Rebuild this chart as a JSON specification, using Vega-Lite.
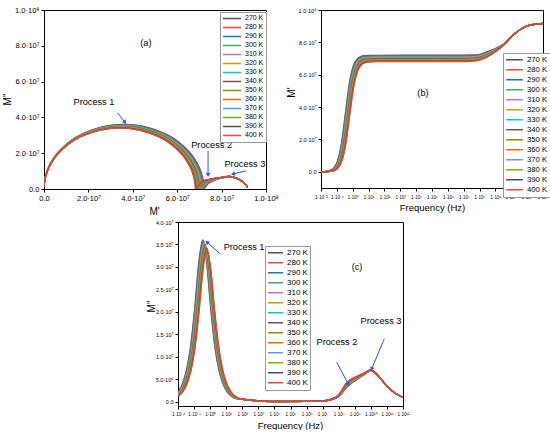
{
"$schema":"https://vega.github.io/schema/vega-lite/v6.json",
"padding":{"left":1,"top":5,"right":0,"bottom":0},
"config":{"font":"Liberation Sans","view":{"stroke":"#000","strokeWidth":1},
"axis":{"grid":false,"domainColor":"#000","tickColor":"#000","labelColor":"#000","titleColor":"#000","titleFontWeight":"normal","tickSize":3,"labelPadding":2,"labelFlush":false,"labelOverlap":false},
"legend":{"symbolType":"stroke","symbolStrokeWidth":1.5,"rowPadding":0,"padding":2,"strokeColor":"#999","fillColor":"#fff","labelColor":"#000","labelOffset":3}},
"datasets":{"d":[
{"T":"270 K","lf":-2.21,"re":0.002e7,"im":0.128e7},{"T":"270 K","lf":-1.96,"re":0.007e7,"im":0.227e7},{"T":"270 K","lf":-1.71,"re":0.023e7,"im":0.404e7},{"T":"270 K","lf":-1.46,"re":0.071e7,"im":0.713e7},{"T":"270 K","lf":-1.21,"re":0.221e7,"im":1.241e7},{"T":"270 K","lf":-0.96,"re":0.655e7,"im":2.070e7},{"T":"270 K","lf":-0.71,"re":1.730e7,"im":3.076e7},{"T":"270 K","lf":-0.46,"re":3.600e7,"im":3.600e7},{"T":"270 K","lf":-0.21,"re":5.470e7,"im":3.076e7},{"T":"270 K","lf":0.04,"re":6.545e7,"im":2.070e7},{"T":"270 K","lf":0.29,"re":6.979e7,"im":1.241e7},{"T":"270 K","lf":0.54,"re":7.129e7,"im":0.713e7},{"T":"270 K","lf":0.79,"re":7.177e7,"im":0.404e7},{"T":"270 K","lf":1.04,"re":7.193e7,"im":0.227e7},{"T":"270 K","lf":1.29,"re":7.198e7,"im":0.128e7},{"T":"270 K","lf":1.54,"re":7.199e7,"im":0.072e7},
{"T":"270 K","lf":4,"re":7.201e7,"im":0.001e7},{"T":"270 K","lf":6,"re":7.203e7,"im":0.004e7},{"T":"270 K","lf":7,"re":7.205e7,"im":0.012e7},{"T":"270 K","lf":7.5,"re":7.215e7,"im":0.035e7},{"T":"270 K","lf":8,"re":7.260e7,"im":0.110e7},{"T":"270 K","lf":8.5,"re":7.420e7,"im":0.320e7},{"T":"270 K","lf":9,"re":7.620e7,"im":0.460e7},{"T":"270 K","lf":9.5,"re":7.880e7,"im":0.580e7},{"T":"270 K","lf":9.75,"re":8.100e7,"im":0.645e7},{"T":"270 K","lf":10,"re":8.350e7,"im":0.690e7},{"T":"270 K","lf":10.25,"re":8.570e7,"im":0.640e7},{"T":"270 K","lf":10.5,"re":8.75e7,"im":0.555e7},{"T":"270 K","lf":11,"re":9.02e7,"im":0.34e7},{"T":"270 K","lf":11.5,"re":9.12e7,"im":0.19e7},{"T":"270 K","lf":12,"re":9.17e7,"im":0.09e7},
{"T":"280 K","lf":-2.19,"re":0.002e7,"im":0.127e7},{"T":"280 K","lf":-1.94,"re":0.007e7,"im":0.227e7},{"T":"280 K","lf":-1.69,"re":0.023e7,"im":0.402e7},{"T":"280 K","lf":-1.44,"re":0.071e7,"im":0.710e7},{"T":"280 K","lf":-1.19,"re":0.220e7,"im":1.236e7},{"T":"280 K","lf":-0.94,"re":0.652e7,"im":2.061e7},{"T":"280 K","lf":-0.69,"re":1.723e7,"im":3.063e7},{"T":"280 K","lf":-0.44,"re":3.585e7,"im":3.585e7},{"T":"280 K","lf":-0.19,"re":5.447e7,"im":3.063e7},{"T":"280 K","lf":0.06,"re":6.518e7,"im":2.061e7},{"T":"280 K","lf":0.31,"re":6.950e7,"im":1.236e7},{"T":"280 K","lf":0.56,"re":7.099e7,"im":0.710e7},{"T":"280 K","lf":0.81,"re":7.147e7,"im":0.402e7},{"T":"280 K","lf":1.06,"re":7.163e7,"im":0.227e7},{"T":"280 K","lf":1.31,"re":7.168e7,"im":0.127e7},{"T":"280 K","lf":1.56,"re":7.169e7,"im":0.072e7},
{"T":"280 K","lf":4,"re":7.171e7,"im":0.001e7},{"T":"280 K","lf":6,"re":7.173e7,"im":0.004e7},{"T":"280 K","lf":7,"re":7.175e7,"im":0.012e7},{"T":"280 K","lf":7.5,"re":7.186e7,"im":0.036e7},{"T":"280 K","lf":8,"re":7.233e7,"im":0.113e7},{"T":"280 K","lf":8.5,"re":7.395e7,"im":0.328e7},{"T":"280 K","lf":9,"re":7.605e7,"im":0.466e7},{"T":"280 K","lf":9.5,"re":7.875e7,"im":0.583e7},{"T":"280 K","lf":9.75,"re":8.097e7,"im":0.647e7},{"T":"280 K","lf":10,"re":8.348e7,"im":0.692e7},{"T":"280 K","lf":10.25,"re":8.569e7,"im":0.641e7},{"T":"280 K","lf":10.5,"re":8.75e7,"im":0.555e7},{"T":"280 K","lf":11,"re":9.02e7,"im":0.34e7},{"T":"280 K","lf":11.5,"re":9.12e7,"im":0.19e7},{"T":"280 K","lf":12,"re":9.17e7,"im":0.09e7},
{"T":"290 K","lf":-2.17,"re":0.002e7,"im":0.127e7},{"T":"290 K","lf":-1.92,"re":0.007e7,"im":0.226e7},{"T":"290 K","lf":-1.67,"re":0.023e7,"im":0.400e7},{"T":"290 K","lf":-1.42,"re":0.071e7,"im":0.707e7},{"T":"290 K","lf":-1.17,"re":0.219e7,"im":1.231e7},{"T":"290 K","lf":-0.92,"re":0.649e7,"im":2.053e7},{"T":"290 K","lf":-0.67,"re":1.715e7,"im":3.051e7},{"T":"290 K","lf":-0.42,"re":3.570e7,"im":3.570e7},{"T":"290 K","lf":-0.17,"re":5.425e7,"im":3.051e7},{"T":"290 K","lf":0.08,"re":6.491e7,"im":2.053e7},{"T":"290 K","lf":0.33,"re":6.921e7,"im":1.231e7},{"T":"290 K","lf":0.58,"re":7.069e7,"im":0.707e7},{"T":"290 K","lf":0.83,"re":7.117e7,"im":0.400e7},{"T":"290 K","lf":1.08,"re":7.133e7,"im":0.226e7},{"T":"290 K","lf":1.33,"re":7.138e7,"im":0.127e7},{"T":"290 K","lf":1.58,"re":7.139e7,"im":0.071e7},
{"T":"290 K","lf":4,"re":7.141e7,"im":0.001e7},{"T":"290 K","lf":6,"re":7.143e7,"im":0.004e7},{"T":"290 K","lf":7,"re":7.145e7,"im":0.012e7},{"T":"290 K","lf":7.5,"re":7.157e7,"im":0.037e7},{"T":"290 K","lf":8,"re":7.206e7,"im":0.116e7},{"T":"290 K","lf":8.5,"re":7.371e7,"im":0.335e7},{"T":"290 K","lf":9,"re":7.589e7,"im":0.472e7},{"T":"290 K","lf":9.5,"re":7.869e7,"im":0.586e7},{"T":"290 K","lf":9.75,"re":8.094e7,"im":0.648e7},{"T":"290 K","lf":10,"re":8.347e7,"im":0.693e7},{"T":"290 K","lf":10.25,"re":8.568e7,"im":0.642e7},{"T":"290 K","lf":10.5,"re":8.75e7,"im":0.556e7},{"T":"290 K","lf":11,"re":9.02e7,"im":0.34e7},{"T":"290 K","lf":11.5,"re":9.12e7,"im":0.19e7},{"T":"290 K","lf":12,"re":9.17e7,"im":0.09e7},
{"T":"300 K","lf":-2.15,"re":0.002e7,"im":0.126e7},{"T":"300 K","lf":-1.90,"re":0.007e7,"im":0.225e7},{"T":"300 K","lf":-1.65,"re":0.022e7,"im":0.399e7},{"T":"300 K","lf":-1.40,"re":0.070e7,"im":0.704e7},{"T":"300 K","lf":-1.15,"re":0.218e7,"im":1.226e7},{"T":"300 K","lf":-0.90,"re":0.646e7,"im":2.044e7},{"T":"300 K","lf":-0.65,"re":1.708e7,"im":3.038e7},{"T":"300 K","lf":-0.40,"re":3.555e7,"im":3.555e7},{"T":"300 K","lf":-0.15,"re":5.402e7,"im":3.038e7},{"T":"300 K","lf":0.10,"re":6.464e7,"im":2.044e7},{"T":"300 K","lf":0.35,"re":6.892e7,"im":1.226e7},{"T":"300 K","lf":0.60,"re":7.040e7,"im":0.704e7},{"T":"300 K","lf":0.85,"re":7.088e7,"im":0.399e7},{"T":"300 K","lf":1.10,"re":7.103e7,"im":0.225e7},{"T":"300 K","lf":1.35,"re":7.108e7,"im":0.126e7},{"T":"300 K","lf":1.60,"re":7.109e7,"im":0.071e7},
{"T":"300 K","lf":4,"re":7.111e7,"im":0.001e7},{"T":"300 K","lf":6,"re":7.113e7,"im":0.004e7},{"T":"300 K","lf":7,"re":7.115e7,"im":0.012e7},{"T":"300 K","lf":7.5,"re":7.127e7,"im":0.037e7},{"T":"300 K","lf":8,"re":7.179e7,"im":0.119e7},{"T":"300 K","lf":8.5,"re":7.346e7,"im":0.343e7},{"T":"300 K","lf":9,"re":7.574e7,"im":0.478e7},{"T":"300 K","lf":9.5,"re":7.864e7,"im":0.589e7},{"T":"300 K","lf":9.75,"re":8.091e7,"im":0.650e7},{"T":"300 K","lf":10,"re":8.345e7,"im":0.695e7},{"T":"300 K","lf":10.25,"re":8.568e7,"im":0.642e7},{"T":"300 K","lf":10.5,"re":8.75e7,"im":0.556e7},{"T":"300 K","lf":11,"re":9.02e7,"im":0.34e7},{"T":"300 K","lf":11.5,"re":9.12e7,"im":0.19e7},{"T":"300 K","lf":12,"re":9.17e7,"im":0.09e7},
{"T":"310 K","lf":-2.13,"re":0.002e7,"im":0.126e7},{"T":"310 K","lf":-1.88,"re":0.007e7,"im":0.224e7},{"T":"310 K","lf":-1.63,"re":0.022e7,"im":0.397e7},{"T":"310 K","lf":-1.38,"re":0.070e7,"im":0.701e7},{"T":"310 K","lf":-1.13,"re":0.217e7,"im":1.220e7},{"T":"310 K","lf":-0.88,"re":0.644e7,"im":2.035e7},{"T":"310 K","lf":-0.63,"re":1.701e7,"im":3.025e7},{"T":"310 K","lf":-0.38,"re":3.540e7,"im":3.540e7},{"T":"310 K","lf":-0.13,"re":5.379e7,"im":3.025e7},{"T":"310 K","lf":0.12,"re":6.436e7,"im":2.035e7},{"T":"310 K","lf":0.37,"re":6.863e7,"im":1.220e7},{"T":"310 K","lf":0.62,"re":7.010e7,"im":0.701e7},{"T":"310 K","lf":0.87,"re":7.058e7,"im":0.397e7},{"T":"310 K","lf":1.12,"re":7.073e7,"im":0.224e7},{"T":"310 K","lf":1.37,"re":7.078e7,"im":0.126e7},{"T":"310 K","lf":1.62,"re":7.079e7,"im":0.071e7},
{"T":"310 K","lf":4,"re":7.081e7,"im":0.001e7},{"T":"310 K","lf":6,"re":7.083e7,"im":0.004e7},{"T":"310 K","lf":7,"re":7.085e7,"im":0.013e7},{"T":"310 K","lf":7.5,"re":7.098e7,"im":0.038e7},{"T":"310 K","lf":8,"re":7.152e7,"im":0.122e7},{"T":"310 K","lf":8.5,"re":7.322e7,"im":0.351e7},{"T":"310 K","lf":9,"re":7.558e7,"im":0.485e7},{"T":"310 K","lf":9.5,"re":7.858e7,"im":0.592e7},{"T":"310 K","lf":9.75,"re":8.088e7,"im":0.651e7},{"T":"310 K","lf":10,"re":8.344e7,"im":0.696e7},{"T":"310 K","lf":10.25,"re":8.567e7,"im":0.643e7},{"T":"310 K","lf":10.5,"re":8.75e7,"im":0.557e7},{"T":"310 K","lf":11,"re":9.02e7,"im":0.34e7},{"T":"310 K","lf":11.5,"re":9.12e7,"im":0.19e7},{"T":"310 K","lf":12,"re":9.17e7,"im":0.09e7},
{"T":"320 K","lf":-2.11,"re":0.002e7,"im":0.125e7},{"T":"320 K","lf":-1.86,"re":0.007e7,"im":0.223e7},{"T":"320 K","lf":-1.61,"re":0.022e7,"im":0.395e7},{"T":"320 K","lf":-1.36,"re":0.070e7,"im":0.698e7},{"T":"320 K","lf":-1.11,"re":0.216e7,"im":1.215e7},{"T":"320 K","lf":-0.86,"re":0.641e7,"im":2.027e7},{"T":"320 K","lf":-0.61,"re":1.694e7,"im":3.012e7},{"T":"320 K","lf":-0.36,"re":3.525e7,"im":3.525e7},{"T":"320 K","lf":-0.11,"re":5.356e7,"im":3.012e7},{"T":"320 K","lf":0.14,"re":6.409e7,"im":2.027e7},{"T":"320 K","lf":0.39,"re":6.834e7,"im":1.215e7},{"T":"320 K","lf":0.64,"re":6.980e7,"im":0.698e7},{"T":"320 K","lf":0.89,"re":7.028e7,"im":0.395e7},{"T":"320 K","lf":1.14,"re":7.043e7,"im":0.223e7},{"T":"320 K","lf":1.39,"re":7.048e7,"im":0.125e7},{"T":"320 K","lf":1.64,"re":7.049e7,"im":0.070e7},
{"T":"320 K","lf":4,"re":7.051e7,"im":0.001e7},{"T":"320 K","lf":6,"re":7.053e7,"im":0.004e7},{"T":"320 K","lf":7,"re":7.055e7,"im":0.013e7},{"T":"320 K","lf":7.5,"re":7.069e7,"im":0.039e7},{"T":"320 K","lf":8,"re":7.125e7,"im":0.125e7},{"T":"320 K","lf":8.5,"re":7.297e7,"im":0.358e7},{"T":"320 K","lf":9,"re":7.543e7,"im":0.491e7},{"T":"320 K","lf":9.5,"re":7.853e7,"im":0.595e7},{"T":"320 K","lf":9.75,"re":8.085e7,"im":0.653e7},{"T":"320 K","lf":10,"re":8.342e7,"im":0.698e7},{"T":"320 K","lf":10.25,"re":8.566e7,"im":0.644e7},{"T":"320 K","lf":10.5,"re":8.75e7,"im":0.557e7},{"T":"320 K","lf":11,"re":9.02e7,"im":0.34e7},{"T":"320 K","lf":11.5,"re":9.12e7,"im":0.19e7},{"T":"320 K","lf":12,"re":9.17e7,"im":0.09e7},
{"T":"330 K","lf":-2.09,"re":0.002e7,"im":0.125e7},{"T":"330 K","lf":-1.84,"re":0.007e7,"im":0.222e7},{"T":"330 K","lf":-1.59,"re":0.022e7,"im":0.394e7},{"T":"330 K","lf":-1.34,"re":0.070e7,"im":0.695e7},{"T":"330 K","lf":-1.09,"re":0.215e7,"im":1.210e7},{"T":"330 K","lf":-0.84,"re":0.638e7,"im":2.018e7},{"T":"330 K","lf":-0.59,"re":1.687e7,"im":2.999e7},{"T":"330 K","lf":-0.34,"re":3.510e7,"im":3.510e7},{"T":"330 K","lf":-0.09,"re":5.333e7,"im":2.999e7},{"T":"330 K","lf":0.16,"re":6.382e7,"im":2.018e7},{"T":"330 K","lf":0.41,"re":6.805e7,"im":1.210e7},{"T":"330 K","lf":0.66,"re":6.951e7,"im":0.695e7},{"T":"330 K","lf":0.91,"re":6.998e7,"im":0.394e7},{"T":"330 K","lf":1.16,"re":7.013e7,"im":0.222e7},{"T":"330 K","lf":1.41,"re":7.018e7,"im":0.125e7},{"T":"330 K","lf":1.66,"re":7.019e7,"im":0.070e7},
{"T":"330 K","lf":4,"re":7.021e7,"im":0.001e7},{"T":"330 K","lf":6,"re":7.023e7,"im":0.004e7},{"T":"330 K","lf":7,"re":7.025e7,"im":0.013e7},{"T":"330 K","lf":7.5,"re":7.040e7,"im":0.040e7},{"T":"330 K","lf":8,"re":7.098e7,"im":0.128e7},{"T":"330 K","lf":8.5,"re":7.272e7,"im":0.366e7},{"T":"330 K","lf":9,"re":7.528e7,"im":0.497e7},{"T":"330 K","lf":9.5,"re":7.848e7,"im":0.598e7},{"T":"330 K","lf":9.75,"re":8.082e7,"im":0.654e7},{"T":"330 K","lf":10,"re":8.341e7,"im":0.699e7},{"T":"330 K","lf":10.25,"re":8.565e7,"im":0.645e7},{"T":"330 K","lf":10.5,"re":8.75e7,"im":0.557e7},{"T":"330 K","lf":11,"re":9.02e7,"im":0.34e7},{"T":"330 K","lf":11.5,"re":9.12e7,"im":0.19e7},{"T":"330 K","lf":12,"re":9.17e7,"im":0.09e7},
{"T":"340 K","lf":-2.07,"re":0.002e7,"im":0.124e7},{"T":"340 K","lf":-1.82,"re":0.007e7,"im":0.221e7},{"T":"340 K","lf":-1.57,"re":0.022e7,"im":0.392e7},{"T":"340 K","lf":-1.32,"re":0.069e7,"im":0.692e7},{"T":"340 K","lf":-1.07,"re":0.214e7,"im":1.205e7},{"T":"340 K","lf":-0.82,"re":0.635e7,"im":2.009e7},{"T":"340 K","lf":-0.57,"re":1.679e7,"im":2.986e7},{"T":"340 K","lf":-0.32,"re":3.495e7,"im":3.495e7},{"T":"340 K","lf":-0.07,"re":5.311e7,"im":2.986e7},{"T":"340 K","lf":0.18,"re":6.355e7,"im":2.009e7},{"T":"340 K","lf":0.43,"re":6.776e7,"im":1.205e7},{"T":"340 K","lf":0.68,"re":6.921e7,"im":0.692e7},{"T":"340 K","lf":0.93,"re":6.968e7,"im":0.392e7},{"T":"340 K","lf":1.18,"re":6.983e7,"im":0.221e7},{"T":"340 K","lf":1.43,"re":6.988e7,"im":0.124e7},{"T":"340 K","lf":1.68,"re":6.989e7,"im":0.070e7},
{"T":"340 K","lf":4,"re":6.991e7,"im":0.001e7},{"T":"340 K","lf":6,"re":6.993e7,"im":0.004e7},{"T":"340 K","lf":7,"re":6.995e7,"im":0.013e7},{"T":"340 K","lf":7.5,"re":7.010e7,"im":0.040e7},{"T":"340 K","lf":8,"re":7.072e7,"im":0.132e7},{"T":"340 K","lf":8.5,"re":7.248e7,"im":0.374e7},{"T":"340 K","lf":9,"re":7.512e7,"im":0.503e7},{"T":"340 K","lf":9.5,"re":7.842e7,"im":0.602e7},{"T":"340 K","lf":9.75,"re":8.078e7,"im":0.656e7},{"T":"340 K","lf":10,"re":8.339e7,"im":0.701e7},{"T":"340 K","lf":10.25,"re":8.565e7,"im":0.645e7},{"T":"340 K","lf":10.5,"re":8.75e7,"im":0.558e7},{"T":"340 K","lf":11,"re":9.02e7,"im":0.34e7},{"T":"340 K","lf":11.5,"re":9.12e7,"im":0.19e7},{"T":"340 K","lf":12,"re":9.17e7,"im":0.09e7},
{"T":"350 K","lf":-2.05,"re":0.002e7,"im":0.124e7},{"T":"350 K","lf":-1.80,"re":0.007e7,"im":0.220e7},{"T":"350 K","lf":-1.55,"re":0.022e7,"im":0.390e7},{"T":"350 K","lf":-1.30,"re":0.069e7,"im":0.689e7},{"T":"350 K","lf":-1.05,"re":0.213e7,"im":1.200e7},{"T":"350 K","lf":-0.80,"re":0.633e7,"im":2.001e7},{"T":"350 K","lf":-0.55,"re":1.672e7,"im":2.974e7},{"T":"350 K","lf":-0.30,"re":3.480e7,"im":3.480e7},{"T":"350 K","lf":-0.05,"re":5.288e7,"im":2.974e7},{"T":"350 K","lf":0.20,"re":6.327e7,"im":2.001e7},{"T":"350 K","lf":0.45,"re":6.747e7,"im":1.200e7},{"T":"350 K","lf":0.70,"re":6.891e7,"im":0.689e7},{"T":"350 K","lf":0.95,"re":6.938e7,"im":0.390e7},{"T":"350 K","lf":1.20,"re":6.953e7,"im":0.220e7},{"T":"350 K","lf":1.45,"re":6.958e7,"im":0.124e7},{"T":"350 K","lf":1.70,"re":6.959e7,"im":0.070e7},
{"T":"350 K","lf":4,"re":6.961e7,"im":0.001e7},{"T":"350 K","lf":6,"re":6.963e7,"im":0.004e7},{"T":"350 K","lf":7,"re":6.965e7,"im":0.013e7},{"T":"350 K","lf":7.5,"re":6.981e7,"im":0.041e7},{"T":"350 K","lf":8,"re":7.045e7,"im":0.135e7},{"T":"350 K","lf":8.5,"re":7.223e7,"im":0.382e7},{"T":"350 K","lf":9,"re":7.497e7,"im":0.509e7},{"T":"350 K","lf":9.5,"re":7.837e7,"im":0.605e7},{"T":"350 K","lf":9.75,"re":8.075e7,"im":0.657e7},{"T":"350 K","lf":10,"re":8.338e7,"im":0.702e7},{"T":"350 K","lf":10.25,"re":8.564e7,"im":0.646e7},{"T":"350 K","lf":10.5,"re":8.75e7,"im":0.558e7},{"T":"350 K","lf":11,"re":9.02e7,"im":0.34e7},{"T":"350 K","lf":11.5,"re":9.12e7,"im":0.19e7},{"T":"350 K","lf":12,"re":9.17e7,"im":0.09e7},
{"T":"360 K","lf":-2.03,"re":0.002e7,"im":0.123e7},{"T":"360 K","lf":-1.78,"re":0.007e7,"im":0.219e7},{"T":"360 K","lf":-1.53,"re":0.022e7,"im":0.388e7},{"T":"360 K","lf":-1.28,"re":0.069e7,"im":0.686e7},{"T":"360 K","lf":-1.03,"re":0.212e7,"im":1.195e7},{"T":"360 K","lf":-0.78,"re":0.630e7,"im":1.992e7},{"T":"360 K","lf":-0.53,"re":1.665e7,"im":2.961e7},{"T":"360 K","lf":-0.28,"re":3.465e7,"im":3.465e7},{"T":"360 K","lf":-0.03,"re":5.265e7,"im":2.961e7},{"T":"360 K","lf":0.22,"re":6.300e7,"im":1.992e7},{"T":"360 K","lf":0.47,"re":6.718e7,"im":1.195e7},{"T":"360 K","lf":0.72,"re":6.861e7,"im":0.686e7},{"T":"360 K","lf":0.97,"re":6.908e7,"im":0.388e7},{"T":"360 K","lf":1.22,"re":6.923e7,"im":0.219e7},{"T":"360 K","lf":1.47,"re":6.928e7,"im":0.123e7},{"T":"360 K","lf":1.72,"re":6.929e7,"im":0.069e7},
{"T":"360 K","lf":4,"re":6.931e7,"im":0.001e7},{"T":"360 K","lf":6,"re":6.933e7,"im":0.004e7},{"T":"360 K","lf":7,"re":6.935e7,"im":0.013e7},{"T":"360 K","lf":7.5,"re":6.952e7,"im":0.042e7},{"T":"360 K","lf":8,"re":7.018e7,"im":0.138e7},{"T":"360 K","lf":8.5,"re":7.198e7,"im":0.389e7},{"T":"360 K","lf":9,"re":7.482e7,"im":0.515e7},{"T":"360 K","lf":9.5,"re":7.832e7,"im":0.608e7},{"T":"360 K","lf":9.75,"re":8.072e7,"im":0.659e7},{"T":"360 K","lf":10,"re":8.336e7,"im":0.704e7},{"T":"360 K","lf":10.25,"re":8.563e7,"im":0.647e7},{"T":"360 K","lf":10.5,"re":8.75e7,"im":0.558e7},{"T":"360 K","lf":11,"re":9.02e7,"im":0.34e7},{"T":"360 K","lf":11.5,"re":9.12e7,"im":0.19e7},{"T":"360 K","lf":12,"re":9.17e7,"im":0.09e7},
{"T":"370 K","lf":-2.01,"re":0.002e7,"im":0.123e7},{"T":"370 K","lf":-1.76,"re":0.007e7,"im":0.218e7},{"T":"370 K","lf":-1.51,"re":0.022e7,"im":0.387e7},{"T":"370 K","lf":-1.26,"re":0.068e7,"im":0.683e7},{"T":"370 K","lf":-1.01,"re":0.211e7,"im":1.189e7},{"T":"370 K","lf":-0.76,"re":0.627e7,"im":1.984e7},{"T":"370 K","lf":-0.51,"re":1.658e7,"im":2.948e7},{"T":"370 K","lf":-0.26,"re":3.450e7,"im":3.450e7},{"T":"370 K","lf":-0.01,"re":5.242e7,"im":2.948e7},{"T":"370 K","lf":0.24,"re":6.273e7,"im":1.984e7},{"T":"370 K","lf":0.49,"re":6.688e7,"im":1.189e7},{"T":"370 K","lf":0.74,"re":6.832e7,"im":0.683e7},{"T":"370 K","lf":0.99,"re":6.878e7,"im":0.387e7},{"T":"370 K","lf":1.24,"re":6.893e7,"im":0.218e7},{"T":"370 K","lf":1.49,"re":6.898e7,"im":0.123e7},{"T":"370 K","lf":1.74,"re":6.899e7,"im":0.069e7},
{"T":"370 K","lf":4,"re":6.901e7,"im":0.001e7},{"T":"370 K","lf":6,"re":6.903e7,"im":0.004e7},{"T":"370 K","lf":7,"re":6.905e7,"im":0.014e7},{"T":"370 K","lf":7.5,"re":6.923e7,"im":0.043e7},{"T":"370 K","lf":8,"re":6.991e7,"im":0.141e7},{"T":"370 K","lf":8.5,"re":7.174e7,"im":0.397e7},{"T":"370 K","lf":9,"re":7.466e7,"im":0.522e7},{"T":"370 K","lf":9.5,"re":7.826e7,"im":0.611e7},{"T":"370 K","lf":9.75,"re":8.069e7,"im":0.660e7},{"T":"370 K","lf":10,"re":8.335e7,"im":0.705e7},{"T":"370 K","lf":10.25,"re":8.562e7,"im":0.648e7},{"T":"370 K","lf":10.5,"re":8.75e7,"im":0.559e7},{"T":"370 K","lf":11,"re":9.02e7,"im":0.34e7},{"T":"370 K","lf":11.5,"re":9.12e7,"im":0.19e7},{"T":"370 K","lf":12,"re":9.17e7,"im":0.09e7},
{"T":"380 K","lf":-1.99,"re":0.002e7,"im":0.122e7},{"T":"380 K","lf":-1.74,"re":0.007e7,"im":0.217e7},{"T":"380 K","lf":-1.49,"re":0.022e7,"im":0.385e7},{"T":"380 K","lf":-1.24,"re":0.068e7,"im":0.680e7},{"T":"380 K","lf":-0.99,"re":0.211e7,"im":1.184e7},{"T":"380 K","lf":-0.74,"re":0.625e7,"im":1.975e7},{"T":"380 K","lf":-0.49,"re":1.651e7,"im":2.935e7},{"T":"380 K","lf":-0.24,"re":3.435e7,"im":3.435e7},{"T":"380 K","lf":0.01,"re":5.219e7,"im":2.935e7},{"T":"380 K","lf":0.26,"re":6.245e7,"im":1.975e7},{"T":"380 K","lf":0.51,"re":6.659e7,"im":1.184e7},{"T":"380 K","lf":0.76,"re":6.802e7,"im":0.680e7},{"T":"380 K","lf":1.01,"re":6.848e7,"im":0.385e7},{"T":"380 K","lf":1.26,"re":6.863e7,"im":0.217e7},{"T":"380 K","lf":1.51,"re":6.868e7,"im":0.122e7},{"T":"380 K","lf":1.76,"re":6.869e7,"im":0.069e7},
{"T":"380 K","lf":4,"re":6.871e7,"im":0.001e7},{"T":"380 K","lf":6,"re":6.873e7,"im":0.004e7},{"T":"380 K","lf":7,"re":6.875e7,"im":0.014e7},{"T":"380 K","lf":7.5,"re":6.893e7,"im":0.043e7},{"T":"380 K","lf":8,"re":6.964e7,"im":0.144e7},{"T":"380 K","lf":8.5,"re":7.149e7,"im":0.405e7},{"T":"380 K","lf":9,"re":7.451e7,"im":0.528e7},{"T":"380 K","lf":9.5,"re":7.821e7,"im":0.614e7},{"T":"380 K","lf":9.75,"re":8.066e7,"im":0.662e7},{"T":"380 K","lf":10,"re":8.333e7,"im":0.707e7},{"T":"380 K","lf":10.25,"re":8.562e7,"im":0.648e7},{"T":"380 K","lf":10.5,"re":8.75e7,"im":0.559e7},{"T":"380 K","lf":11,"re":9.02e7,"im":0.34e7},{"T":"380 K","lf":11.5,"re":9.12e7,"im":0.19e7},{"T":"380 K","lf":12,"re":9.17e7,"im":0.09e7},
{"T":"390 K","lf":-1.97,"re":0.002e7,"im":0.122e7},{"T":"390 K","lf":-1.72,"re":0.007e7,"im":0.216e7},{"T":"390 K","lf":-1.47,"re":0.022e7,"im":0.383e7},{"T":"390 K","lf":-1.22,"re":0.068e7,"im":0.677e7},{"T":"390 K","lf":-0.97,"re":0.210e7,"im":1.179e7},{"T":"390 K","lf":-0.72,"re":0.622e7,"im":1.966e7},{"T":"390 K","lf":-0.47,"re":1.643e7,"im":2.922e7},{"T":"390 K","lf":-0.22,"re":3.420e7,"im":3.420e7},{"T":"390 K","lf":0.03,"re":5.197e7,"im":2.922e7},{"T":"390 K","lf":0.28,"re":6.218e7,"im":1.966e7},{"T":"390 K","lf":0.53,"re":6.630e7,"im":1.179e7},{"T":"390 K","lf":0.78,"re":6.772e7,"im":0.677e7},{"T":"390 K","lf":1.03,"re":6.818e7,"im":0.383e7},{"T":"390 K","lf":1.28,"re":6.833e7,"im":0.216e7},{"T":"390 K","lf":1.53,"re":6.838e7,"im":0.122e7},{"T":"390 K","lf":1.78,"re":6.839e7,"im":0.068e7},
{"T":"390 K","lf":4,"re":6.841e7,"im":0.001e7},{"T":"390 K","lf":6,"re":6.843e7,"im":0.004e7},{"T":"390 K","lf":7,"re":6.845e7,"im":0.014e7},{"T":"390 K","lf":7.5,"re":6.864e7,"im":0.044e7},{"T":"390 K","lf":8,"re":6.937e7,"im":0.147e7},{"T":"390 K","lf":8.5,"re":7.125e7,"im":0.412e7},{"T":"390 K","lf":9,"re":7.435e7,"im":0.534e7},{"T":"390 K","lf":9.5,"re":7.815e7,"im":0.617e7},{"T":"390 K","lf":9.75,"re":8.063e7,"im":0.663e7},{"T":"390 K","lf":10,"re":8.332e7,"im":0.708e7},{"T":"390 K","lf":10.25,"re":8.561e7,"im":0.649e7},{"T":"390 K","lf":10.5,"re":8.75e7,"im":0.560e7},{"T":"390 K","lf":11,"re":9.02e7,"im":0.34e7},{"T":"390 K","lf":11.5,"re":9.12e7,"im":0.19e7},{"T":"390 K","lf":12,"re":9.17e7,"im":0.09e7},
{"T":"400 K","lf":-1.95,"re":0.002e7,"im":0.121e7},{"T":"400 K","lf":-1.70,"re":0.007e7,"im":0.215e7},{"T":"400 K","lf":-1.45,"re":0.021e7,"im":0.382e7},{"T":"400 K","lf":-1.20,"re":0.067e7,"im":0.674e7},{"T":"400 K","lf":-0.95,"re":0.209e7,"im":1.174e7},{"T":"400 K","lf":-0.70,"re":0.619e7,"im":1.958e7},{"T":"400 K","lf":-0.45,"re":1.636e7,"im":2.910e7},{"T":"400 K","lf":-0.20,"re":3.405e7,"im":3.405e7},{"T":"400 K","lf":0.05,"re":5.174e7,"im":2.910e7},{"T":"400 K","lf":0.30,"re":6.191e7,"im":1.958e7},{"T":"400 K","lf":0.55,"re":6.601e7,"im":1.174e7},{"T":"400 K","lf":0.80,"re":6.743e7,"im":0.674e7},{"T":"400 K","lf":1.05,"re":6.789e7,"im":0.382e7},{"T":"400 K","lf":1.30,"re":6.803e7,"im":0.215e7},{"T":"400 K","lf":1.55,"re":6.808e7,"im":0.121e7},{"T":"400 K","lf":1.80,"re":6.809e7,"im":0.068e7},
{"T":"400 K","lf":4,"re":6.811e7,"im":0.001e7},{"T":"400 K","lf":6,"re":6.813e7,"im":0.004e7},{"T":"400 K","lf":7,"re":6.815e7,"im":0.014e7},{"T":"400 K","lf":7.5,"re":6.835e7,"im":0.045e7},{"T":"400 K","lf":8,"re":6.910e7,"im":0.150e7},{"T":"400 K","lf":8.5,"re":7.100e7,"im":0.420e7},{"T":"400 K","lf":9,"re":7.420e7,"im":0.540e7},{"T":"400 K","lf":9.5,"re":7.810e7,"im":0.620e7},{"T":"400 K","lf":9.75,"re":8.060e7,"im":0.665e7},{"T":"400 K","lf":10,"re":8.330e7,"im":0.710e7},{"T":"400 K","lf":10.25,"re":8.560e7,"im":0.650e7},{"T":"400 K","lf":10.5,"re":8.75e7,"im":0.560e7},{"T":"400 K","lf":11,"re":9.02e7,"im":0.34e7},{"T":"400 K","lf":11.5,"re":9.12e7,"im":0.19e7},{"T":"400 K","lf":12,"re":9.17e7,"im":0.09e7}
]},
"spacing":2,
"resolve":{"scale":{"color":"independent"},"legend":{"color":"independent"}},
"vconcat":[
{"hconcat":[
{"width":222,"height":179,
"layer":[
{"data":{"name":"d"},
"mark":{"type":"line","interpolate":"catmull-rom","strokeWidth":1.4,"clip":true},
"encoding":{
"x":{"field":"re","type":"quantitative","scale":{"domain":[0,1e8],"nice":false},
"axis":{"values":[0,2e7,4e7,6e7,8e7,1e8],"labelOverlap":false,"labelExpr":"datum.value == 0 ? '0.0' : datum.value >= 0.99e8 ? '1.0·10⁸' : format(datum.value / 1e7, '.1f') + '·10⁷'","labelFontSize":7.5,"title":"M'","titleFontSize":10,"titleX":110,"titleY":22,"titleBaseline":"middle"}},
"y":{"field":"im","type":"quantitative","scale":{"domain":[0,1e8],"nice":false},
"axis":{"values":[0,2e7,4e7,6e7,8e7,1e8],"labelOverlap":false,"labelExpr":"datum.value == 0 ? '0.0' : datum.value >= 0.99e8 ? '1.0·10⁸' : format(datum.value / 1e7, '.1f') + '·10⁷'","labelFontSize":7.5,"title":"M\"","titleFontSize":10,"titleX":-37,"titleY":89,"titleBaseline":"middle"}},
"color":{"field":"T","type":"nominal",
"scale":{"domain":["270 K","280 K","290 K","300 K","310 K","320 K","330 K","340 K","350 K","360 K","370 K","380 K","390 K","400 K"],"range":["#515151","#F14040","#1A6FDF","#37AD6B","#B177DE","#CC9900","#00CBCC","#7D4E4E","#8E8E00","#FB6501","#6699CC","#6FB802","#515151","#F14040"]},
"legend":{"title":null,"orient":"none","legendX":176,"legendY":2,"symbolSize":324,"labelFontSize":7,"clipHeight":8.85}},
"order":{"field":"lf","type":"quantitative"}}},
{"data":{"values":[{"x":2.25e7,"y":4.86e7,"t":"Process 1"},{"x":7.55e7,"y":2.46e7,"t":"Process 2"},{"x":9.05e7,"y":1.40e7,"t":"Process 3"},{"x":4.59e7,"y":8.16e7,"t":"(a)"}]},
"mark":{"type":"text","fontSize":9.2,"align":"center","baseline":"middle","color":"#000"},
"encoding":{
"x":{"field":"x","type":"quantitative","axis":{"values":[0,2e7,4e7,6e7,8e7,1e8],"labelOverlap":false,"labelExpr":"datum.value == 0 ? '0.0' : datum.value >= 0.99e8 ? '1.0·10⁸' : format(datum.value / 1e7, '.1f') + '·10⁷'","labelFontSize":7.5,"title":"M'","titleFontSize":10,"titleX":110,"titleY":22,"titleBaseline":"middle"}},
"y":{"field":"y","type":"quantitative","axis":{"values":[0,2e7,4e7,6e7,8e7,1e8],"labelOverlap":false,"labelExpr":"datum.value == 0 ? '0.0' : datum.value >= 0.99e8 ? '1.0·10⁸' : format(datum.value / 1e7, '.1f') + '·10⁷'","labelFontSize":7.5,"title":"M\"","titleFontSize":10,"titleX":-37,"titleY":89,"titleBaseline":"middle"}},
"text":{"field":"t"}}},
{"data":{"values":[{"x":3.32e7,"y":4.25e7,"x2":3.65e7,"y2":3.72e7},{"x":7.39e7,"y":2.12e7,"x2":7.39e7,"y2":0.78e7},{"x":9.10e7,"y":1.01e7,"x2":8.51e7,"y2":0.84e7}]},
"mark":{"type":"rule","color":"#3050f0","strokeWidth":1},
"encoding":{
"x":{"field":"x","type":"quantitative","axis":{"values":[0,2e7,4e7,6e7,8e7,1e8],"labelOverlap":false,"labelExpr":"datum.value == 0 ? '0.0' : datum.value >= 0.99e8 ? '1.0·10⁸' : format(datum.value / 1e7, '.1f') + '·10⁷'","labelFontSize":7.5,"title":"M'","titleFontSize":10,"titleX":110,"titleY":22,"titleBaseline":"middle"}},
"y":{"field":"y","type":"quantitative","axis":{"values":[0,2e7,4e7,6e7,8e7,1e8],"labelOverlap":false,"labelExpr":"datum.value == 0 ? '0.0' : datum.value >= 0.99e8 ? '1.0·10⁸' : format(datum.value / 1e7, '.1f') + '·10⁷'","labelFontSize":7.5,"title":"M\"","titleFontSize":10,"titleX":-37,"titleY":89,"titleBaseline":"middle"}},
"x2":{"field":"x2"},"y2":{"field":"y2"}}},
{"data":{"values":[{"x2":3.65e7,"y2":3.72e7}]},
"mark":{"type":"point","shape":"triangle-up","filled":true,"color":"#3050f0","opacity":1,"size":22,"angle":142},
"encoding":{
"x":{"field":"x2","type":"quantitative","axis":{"values":[0,2e7,4e7,6e7,8e7,1e8],"labelOverlap":false,"labelExpr":"datum.value == 0 ? '0.0' : datum.value >= 0.99e8 ? '1.0·10⁸' : format(datum.value / 1e7, '.1f') + '·10⁷'","labelFontSize":7.5,"title":"M'","titleFontSize":10,"titleX":110,"titleY":22,"titleBaseline":"middle"}},
"y":{"field":"y2","type":"quantitative","axis":{"values":[0,2e7,4e7,6e7,8e7,1e8],"labelOverlap":false,"labelExpr":"datum.value == 0 ? '0.0' : datum.value >= 0.99e8 ? '1.0·10⁸' : format(datum.value / 1e7, '.1f') + '·10⁷'","labelFontSize":7.5,"title":"M\"","titleFontSize":10,"titleX":-37,"titleY":89,"titleBaseline":"middle"}}}},
{"data":{"values":[{"x2":7.39e7,"y2":0.78e7}]},
"mark":{"type":"point","shape":"triangle-up","filled":true,"color":"#3050f0","opacity":1,"size":22,"angle":180},
"encoding":{
"x":{"field":"x2","type":"quantitative","axis":{"values":[0,2e7,4e7,6e7,8e7,1e8],"labelOverlap":false,"labelExpr":"datum.value == 0 ? '0.0' : datum.value >= 0.99e8 ? '1.0·10⁸' : format(datum.value / 1e7, '.1f') + '·10⁷'","labelFontSize":7.5,"title":"M'","titleFontSize":10,"titleX":110,"titleY":22,"titleBaseline":"middle"}},
"y":{"field":"y2","type":"quantitative","axis":{"values":[0,2e7,4e7,6e7,8e7,1e8],"labelOverlap":false,"labelExpr":"datum.value == 0 ? '0.0' : datum.value >= 0.99e8 ? '1.0·10⁸' : format(datum.value / 1e7, '.1f') + '·10⁷'","labelFontSize":7.5,"title":"M\"","titleFontSize":10,"titleX":-37,"titleY":89,"titleBaseline":"middle"}}}},
{"data":{"values":[{"x2":8.51e7,"y2":0.84e7}]},
"mark":{"type":"point","shape":"triangle-up","filled":true,"color":"#3050f0","opacity":1,"size":22,"angle":257},
"encoding":{
"x":{"field":"x2","type":"quantitative","axis":{"values":[0,2e7,4e7,6e7,8e7,1e8],"labelOverlap":false,"labelExpr":"datum.value == 0 ? '0.0' : datum.value >= 0.99e8 ? '1.0·10⁸' : format(datum.value / 1e7, '.1f') + '·10⁷'","labelFontSize":7.5,"title":"M'","titleFontSize":10,"titleX":110,"titleY":22,"titleBaseline":"middle"}},
"y":{"field":"y2","type":"quantitative","axis":{"values":[0,2e7,4e7,6e7,8e7,1e8],"labelOverlap":false,"labelExpr":"datum.value == 0 ? '0.0' : datum.value >= 0.99e8 ? '1.0·10⁸' : format(datum.value / 1e7, '.1f') + '·10⁷'","labelFontSize":7.5,"title":"M\"","titleFontSize":10,"titleX":-37,"titleY":89,"titleBaseline":"middle"}}}}
]},
{"width":222,"height":178,
"layer":[
{"data":{"name":"d"},
"mark":{"type":"line","interpolate":"monotone","strokeWidth":1.4,"clip":true},
"encoding":{
"x":{"field":"lf","type":"quantitative","scale":{"domain":[-2,12],"nice":false},
"axis":{"values":[-2,-1,0,1,2,3,4,5,6,7,8,9,10,11,12],"labelOverlap":false,"labelExpr":"'1·10' + ['⁻²','⁻¹','⁰','¹','²','³','⁴','⁵','⁶','⁷','⁸','⁹','¹⁰','¹¹','¹²'][datum.value + 2]","labelFontSize":4.5,"labelPadding":3,"title":"Frequency (Hz)","titleFontSize":9.5,"titleX":111,"titleY":19,"titleBaseline":"middle"}},
"y":{"field":"re","type":"quantitative","scale":{"domain":[-1e7,1e8],"nice":false},
"axis":{"values":[0,2e7,4e7,6e7,8e7,1e8],"labelOverlap":false,"labelExpr":"datum.value == 0 ? '0.0' : datum.value >= 0.99e8 ? '1.0·10⁸' : format(datum.value / 1e7, '.1f') + '·10⁷'","labelFontSize":5.5,"title":"M'","titleFontSize":10,"titleX":-30,"titleY":82,"titleBaseline":"middle"}},
"color":{"field":"T","type":"nominal",
"scale":{"domain":["270 K","280 K","290 K","300 K","310 K","320 K","330 K","340 K","350 K","360 K","370 K","380 K","390 K","400 K"],"range":["#515151","#F14040","#1A6FDF","#37AD6B","#B177DE","#CC9900","#00CBCC","#7D4E4E","#8E8E00","#FB6501","#6699CC","#6FB802","#515151","#F14040"]},
"legend":{"title":null,"orient":"none","legendX":182,"legendY":43,"symbolSize":279,"labelFontSize":7.7,"clipHeight":9.4}}}},
{"data":{"values":[{"x":4.43,"y":4.88e7,"t":"(b)"}]},
"mark":{"type":"text","fontSize":9.2,"align":"center","baseline":"middle","color":"#000"},
"encoding":{
"x":{"field":"x","type":"quantitative","axis":{"values":[-2,-1,0,1,2,3,4,5,6,7,8,9,10,11,12],"labelOverlap":false,"labelExpr":"'1·10' + ['⁻²','⁻¹','⁰','¹','²','³','⁴','⁵','⁶','⁷','⁸','⁹','¹⁰','¹¹','¹²'][datum.value + 2]","labelFontSize":4.5,"labelPadding":3,"title":"Frequency (Hz)","titleFontSize":9.5,"titleX":111,"titleY":19,"titleBaseline":"middle"}},
"y":{"field":"y","type":"quantitative","axis":{"values":[0,2e7,4e7,6e7,8e7,1e8],"labelOverlap":false,"labelExpr":"datum.value == 0 ? '0.0' : datum.value >= 0.99e8 ? '1.0·10⁸' : format(datum.value / 1e7, '.1f') + '·10⁷'","labelFontSize":5.5,"title":"M'","titleFontSize":10,"titleX":-30,"titleY":82,"titleBaseline":"middle"}},
"text":{"field":"t"}}}
]}
],"spacing":55,"bounds":"flush",
"resolve":{"scale":{"color":"independent"},"legend":{"color":"independent"}}},
{"hconcat":[
{"width":124,"height":10,"data":{"values":[]},"mark":"point","encoding":{},"view":{"stroke":null,"fill":"#fff"}},
{"width":225,"height":184,
"layer":[
{"data":{"name":"d"},
"mark":{"type":"line","interpolate":"monotone","strokeWidth":1.4,"clip":true},
"encoding":{
"x":{"field":"lf","type":"quantitative","scale":{"domain":[-2,12],"nice":false},
"axis":{"values":[-2,-1,0,1,2,3,4,5,6,7,8,9,10,11,12],"labelOverlap":false,"labelExpr":"'1·10' + ['⁻²','⁻¹','⁰','¹','²','³','⁴','⁵','⁶','⁷','⁸','⁹','¹⁰','¹¹','¹²'][datum.value + 2]","labelFontSize":4.5,"title":"Frequency (Hz)","titleFontSize":9.5,"titleX":112,"titleY":19,"titleBaseline":"middle"}},
"y":{"field":"im","type":"quantitative","scale":{"domain":[-0.1e7,4e7],"nice":false},
"axis":{"values":[0,5e6,1e7,1.5e7,2e7,2.5e7,3e7,3.5e7,4e7],"labelOverlap":false,"labelExpr":"datum.value == 0 ? '0.0' : datum.value < 0.9e7 ? format(datum.value / 1e6, '.1f') + '·10⁶' : format(datum.value / 1e7, '.1f') + '·10⁷'","labelFontSize":5.5,"title":"M\"","titleFontSize":10,"titleX":-27,"titleY":84,"titleBaseline":"middle"}},
"color":{"field":"T","type":"nominal",
"scale":{"domain":["270 K","280 K","290 K","300 K","310 K","320 K","330 K","340 K","350 K","360 K","370 K","380 K","390 K","400 K"],"range":["#515151","#F14040","#1A6FDF","#37AD6B","#B177DE","#CC9900","#00CBCC","#7D4E4E","#8E8E00","#FB6501","#6699CC","#6FB802","#515151","#F14040"]},
"legend":{"title":null,"orient":"none","legendX":87,"legendY":24,"symbolSize":225,"labelFontSize":8,"clipHeight":9.6}}}},
{"data":{"values":[{"x":2.11,"y":3.44e7,"t":"Process 1"},{"x":7.89,"y":1.33e7,"t":"Process 2"},{"x":10.63,"y":1.80e7,"t":"Process 3"},{"x":9.14,"y":2.99e7,"t":"(c)"}]},
"mark":{"type":"text","fontSize":9.2,"align":"center","baseline":"middle","color":"#000"},
"encoding":{
"x":{"field":"x","type":"quantitative","axis":{"values":[-2,-1,0,1,2,3,4,5,6,7,8,9,10,11,12],"labelOverlap":false,"labelExpr":"'1·10' + ['⁻²','⁻¹','⁰','¹','²','³','⁴','⁵','⁶','⁷','⁸','⁹','¹⁰','¹¹','¹²'][datum.value + 2]","labelFontSize":4.5,"title":"Frequency (Hz)","titleFontSize":9.5,"titleX":112,"titleY":19,"titleBaseline":"middle"}},
"y":{"field":"y","type":"quantitative","axis":{"values":[0,5e6,1e7,1.5e7,2e7,2.5e7,3e7,3.5e7,4e7],"labelOverlap":false,"labelExpr":"datum.value == 0 ? '0.0' : datum.value < 0.9e7 ? format(datum.value / 1e6, '.1f') + '·10⁶' : format(datum.value / 1e7, '.1f') + '·10⁷'","labelFontSize":5.5,"title":"M\"","titleFontSize":10,"titleX":-27,"titleY":84,"titleBaseline":"middle"}},
"text":{"field":"t"}}},
{"data":{"values":[{"x":0.63,"y":3.29e7,"x2":-0.20,"y2":3.55e7},{"x":7.88,"y":0.876e7,"x2":8.60,"y2":0.38e7},{"x":10.84,"y":1.40e7,"x2":10.05,"y2":0.726e7}]},
"mark":{"type":"rule","color":"#3050f0","strokeWidth":1},
"encoding":{
"x":{"field":"x","type":"quantitative","axis":{"values":[-2,-1,0,1,2,3,4,5,6,7,8,9,10,11,12],"labelOverlap":false,"labelExpr":"'1·10' + ['⁻²','⁻¹','⁰','¹','²','³','⁴','⁵','⁶','⁷','⁸','⁹','¹⁰','¹¹','¹²'][datum.value + 2]","labelFontSize":4.5,"title":"Frequency (Hz)","titleFontSize":9.5,"titleX":112,"titleY":19,"titleBaseline":"middle"}},
"y":{"field":"y","type":"quantitative","axis":{"values":[0,5e6,1e7,1.5e7,2e7,2.5e7,3e7,3.5e7,4e7],"labelOverlap":false,"labelExpr":"datum.value == 0 ? '0.0' : datum.value < 0.9e7 ? format(datum.value / 1e6, '.1f') + '·10⁶' : format(datum.value / 1e7, '.1f') + '·10⁷'","labelFontSize":5.5,"title":"M\"","titleFontSize":10,"titleX":-27,"titleY":84,"titleBaseline":"middle"}},
"x2":{"field":"x2"},"y2":{"field":"y2"}}},
{"data":{"values":[{"x2":-0.20,"y2":3.55e7}]},
"mark":{"type":"point","shape":"triangle-up","filled":true,"color":"#3050f0","opacity":1,"size":22,"angle":311},
"encoding":{
"x":{"field":"x2","type":"quantitative","axis":{"values":[-2,-1,0,1,2,3,4,5,6,7,8,9,10,11,12],"labelOverlap":false,"labelExpr":"'1·10' + ['⁻²','⁻¹','⁰','¹','²','³','⁴','⁵','⁶','⁷','⁸','⁹','¹⁰','¹¹','¹²'][datum.value + 2]","labelFontSize":4.5,"title":"Frequency (Hz)","titleFontSize":9.5,"titleX":112,"titleY":19,"titleBaseline":"middle"}},
"y":{"field":"y2","type":"quantitative","axis":{"values":[0,5e6,1e7,1.5e7,2e7,2.5e7,3e7,3.5e7,4e7],"labelOverlap":false,"labelExpr":"datum.value == 0 ? '0.0' : datum.value < 0.9e7 ? format(datum.value / 1e6, '.1f') + '·10⁶' : format(datum.value / 1e7, '.1f') + '·10⁷'","labelFontSize":5.5,"title":"M\"","titleFontSize":10,"titleX":-27,"titleY":84,"titleBaseline":"middle"}}}},
{"data":{"values":[{"x2":8.60,"y2":0.38e7}]},
"mark":{"type":"point","shape":"triangle-up","filled":true,"color":"#3050f0","opacity":1,"size":22,"angle":152},
"encoding":{
"x":{"field":"x2","type":"quantitative","axis":{"values":[-2,-1,0,1,2,3,4,5,6,7,8,9,10,11,12],"labelOverlap":false,"labelExpr":"'1·10' + ['⁻²','⁻¹','⁰','¹','²','³','⁴','⁵','⁶','⁷','⁸','⁹','¹⁰','¹¹','¹²'][datum.value + 2]","labelFontSize":4.5,"title":"Frequency (Hz)","titleFontSize":9.5,"titleX":112,"titleY":19,"titleBaseline":"middle"}},
"y":{"field":"y2","type":"quantitative","axis":{"values":[0,5e6,1e7,1.5e7,2e7,2.5e7,3e7,3.5e7,4e7],"labelOverlap":false,"labelExpr":"datum.value == 0 ? '0.0' : datum.value < 0.9e7 ? format(datum.value / 1e6, '.1f') + '·10⁶' : format(datum.value / 1e7, '.1f') + '·10⁷'","labelFontSize":5.5,"title":"M\"","titleFontSize":10,"titleX":-27,"titleY":84,"titleBaseline":"middle"}}}},
{"data":{"values":[{"x2":10.05,"y2":0.726e7}]},
"mark":{"type":"point","shape":"triangle-up","filled":true,"color":"#3050f0","opacity":1,"size":22,"angle":203},
"encoding":{
"x":{"field":"x2","type":"quantitative","axis":{"values":[-2,-1,0,1,2,3,4,5,6,7,8,9,10,11,12],"labelOverlap":false,"labelExpr":"'1·10' + ['⁻²','⁻¹','⁰','¹','²','³','⁴','⁵','⁶','⁷','⁸','⁹','¹⁰','¹¹','¹²'][datum.value + 2]","labelFontSize":4.5,"title":"Frequency (Hz)","titleFontSize":9.5,"titleX":112,"titleY":19,"titleBaseline":"middle"}},
"y":{"field":"y2","type":"quantitative","axis":{"values":[0,5e6,1e7,1.5e7,2e7,2.5e7,3e7,3.5e7,4e7],"labelOverlap":false,"labelExpr":"datum.value == 0 ? '0.0' : datum.value < 0.9e7 ? format(datum.value / 1e6, '.1f') + '·10⁶' : format(datum.value / 1e7, '.1f') + '·10⁷'","labelFontSize":5.5,"title":"M\"","titleFontSize":10,"titleX":-27,"titleY":84,"titleBaseline":"middle"}}}}
]}
],"spacing":10,"bounds":"flush",
"resolve":{"scale":{"color":"independent"},"legend":{"color":"independent"}}}
]
}
